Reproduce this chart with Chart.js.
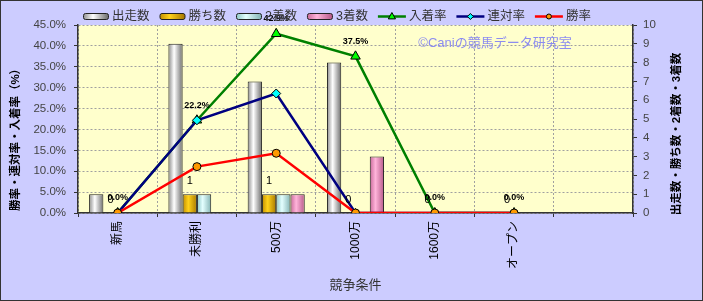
<!DOCTYPE html>
<html>
<head>
<meta charset="utf-8">
<script src="https://cdn.jsdelivr.net/npm/chart.js@4/dist/chart.umd.min.js"></script>
<style>
html, body { margin: 0; padding: 0; background: #fff; }
#wrap { position: relative; width: 701px; height: 299px; border: 1px solid #333; background: #ccccff; }
</style>
</head>
<body>
<div id="wrap"><canvas id="chart"></canvas></div>
<script>
const categories = ['新馬', '未勝利', '500万', '1000万', '1600万', 'オープン', ''];
const runs = [1, 9, 7, 8, 0, 0, null];
const wins = [0, 1, 1, 0, 0, 0, null];
const seconds = [0, 1, 1, 0, 0, 0, null];
const thirds = [0, 0, 1, 3, 0, 0, null];
const placeRate = [0, 22.2, 42.9, 37.5, 0, 0, null];
const quinellaRate = [0, 22.2, 28.6, 0, 0, 0, null];
const winRate = [0, 11.1, 14.3, 0, 0, 0, null];

const FONT = '"Liberation Sans", "Noto Sans CJK JP", sans-serif';

function barGradient(ctx, x0, x1, s) {
    const g = ctx.createLinearGradient(x0, 0, x1, 0);
    g.addColorStop(0, s[0]);
    g.addColorStop(0.4, s[1]);
    g.addColorStop(1, s[2]);
    return g;
}

function barSet(label, data, shade) {
    return {
        type: 'bar', label, data, shade,
        yAxisID: 'y2', order: 3,
        backgroundColor: () => shade[1],
        borderColor: '#222', borderWidth: 1,
        barPercentage: 1, categoryPercentage: 0.72,
    };
}

function lineSet(label, data, color, style, radius, fill, order) {
    return {
        type: 'line', label, data, order,
        yAxisID: 'y',
        borderColor: color, borderWidth: 2.5,
        pointStyle: style, pointRadius: radius,
        pointBackgroundColor: fill, pointBorderColor: '#000', pointBorderWidth: 1,
        tension: 0,
    };
}

function drawMarker(ctx, style, r, x, y) {
    ctx.beginPath();
    if (style === 'triangle') {
        ctx.moveTo(x, y - r);
        ctx.lineTo(x + r * 0.9, y + r * 0.6);
        ctx.lineTo(x - r * 0.9, y + r * 0.6);
        ctx.closePath();
    } else if (style === 'rectRot') {
        ctx.moveTo(x, y - r); ctx.lineTo(x + r, y); ctx.lineTo(x, y + r); ctx.lineTo(x - r, y);
        ctx.closePath();
    } else {
        ctx.arc(x, y, r, 0, Math.PI * 2);
    }
    ctx.fill();
    ctx.stroke();
}

// plot area background
const plotBg = {
    id: 'plotBg',
    beforeDraw(chart) {
        const {ctx, chartArea: a} = chart;
        ctx.save();
        ctx.fillStyle = '#ffffcc';
        ctx.fillRect(a.left, a.top, a.right - a.left, a.bottom - a.top);
        ctx.restore();
    }
};

// cylinder-like shading on bars + watermark
const barShading = {
    id: 'barShading',
    beforeDatasetsDraw(chart) {
        const ctx = chart.ctx;
        chart.data.datasets.forEach((ds, i) => {
            if (ds.type !== 'bar') return;
            chart.getDatasetMeta(i).data.forEach(el => {
                const h = el.width / 2;
                el.options.backgroundColor = barGradient(ctx, el.x - h, el.x + h, ds.shade);
            });
        });
        ctx.save();
        ctx.font = '13px ' + FONT;
        ctx.fillStyle = '#8c8cf0';
        ctx.textAlign = 'center';
        ctx.textBaseline = 'middle';
        ctx.fillText('©Caniの競馬データ研究室', 494, 42);
        ctx.restore();
    }
};

const valueLabels = {
    id: 'valueLabels',
    afterDatasetsDraw(chart) {
        const ctx = chart.ctx;
        ctx.save();
        ctx.textAlign = 'center';
        ctx.textBaseline = 'middle';
        ctx.fillStyle = '#000';
        ctx.font = '11px ' + FONT;
        chart.getDatasetMeta(1).data.forEach((el, i) => {
            if (wins[i] == null) return;
            ctx.fillText(String(wins[i]), el.x, el.y - 13);
        });
        ctx.font = 'bold 9px ' + FONT;
        chart.getDatasetMeta(4).data.forEach((el, i) => {
            if (placeRate[i] == null) return;
            ctx.fillText(placeRate[i].toFixed(1) + '%', el.x, el.y - 15);
        });
        ctx.restore();
    }
};

const legendAndTitles = {
    id: 'legendAndTitles',
    afterDraw(chart) {
        const ctx = chart.ctx;
        ctx.save();
        ctx.font = '12.5px ' + FONT;
        ctx.textBaseline = 'middle';
        let x = 82;
        const y = 15.5;
        chart.data.datasets.forEach(ds => {
            if (ds.type === 'bar') {
                ctx.fillStyle = barGradient(ctx, x, x + 25, ds.shade);
                ctx.strokeStyle = '#222';
                ctx.lineWidth = 1;
                ctx.beginPath();
                ctx.roundRect(x + 0.5, y - 3, 25, 6, 2);
                ctx.fill();
                ctx.stroke();
                x += 26;
            } else {
                ctx.strokeStyle = ds.borderColor;
                ctx.lineWidth = 2.5;
                ctx.beginPath();
                ctx.moveTo(x, y);
                ctx.lineTo(x + 28, y);
                ctx.stroke();
                ctx.fillStyle = ds.pointBackgroundColor;
                ctx.strokeStyle = '#000';
                ctx.lineWidth = 1;
                drawMarker(ctx, ds.pointStyle, ds.pointRadius - 1.5, x + 14, y);
                x += 28;
            }
            x += 3;
            ctx.fillStyle = '#333';
            ctx.fillText(ds.label, x, y + 0.5);
            x += ctx.measureText(ds.label).width + 10;
        });

        ctx.font = 'bold 11.5px ' + FONT;
        ctx.fillStyle = '#000';
        ctx.textAlign = 'center';
        ctx.translate(15, 136);
        ctx.rotate(-Math.PI / 2);
        ctx.fillText('勝率・連対率・入着率（%）', 0, 0);
        ctx.restore();

        ctx.save();
        ctx.font = 'bold 11.5px ' + FONT;
        ctx.fillStyle = '#000';
        ctx.textAlign = 'center';
        ctx.textBaseline = 'middle';
        ctx.translate(676, 133);
        ctx.rotate(-Math.PI / 2);
        ctx.fillText('出走数・勝ち数・2着数・3着数', 0, 0);
        ctx.restore();
    }
};

new Chart(document.getElementById('chart'), {
    data: {
        labels: categories,
        datasets: [
            barSet('出走数', runs, ['#8a8a8a', '#ffffff', '#6e6e6e']),
            barSet('勝ち数', wins, ['#c08c00', '#ffd21a', '#a87800']),
            barSet('2着数', seconds, ['#8cc4c4', '#e4ffff', '#84b4b4']),
            barSet('3着数', thirds, ['#c8689a', '#ffb4da', '#b85a8a']),
            lineSet('入着率', placeRate, '#008000', 'triangle', 5.5, '#00ff00', 2),
            lineSet('連対率', quinellaRate, '#000080', 'rectRot', 4.5, '#00ffff', 1),
            lineSet('勝率', winRate, '#ff0000', 'circle', 4, '#ff9900', 0),
        ],
    },
    options: {
        responsive: true,
        maintainAspectRatio: false,
        animation: false,
        layout: { padding: { top: 24, left: 0, right: 0, bottom: 0 } },
        plugins: {
            legend: { display: false },
            tooltip: { enabled: false },
        },
        scales: {
            x: {
                offset: true,
                grid: { offset: true, color: '#a0a0a0', lineWidth: 1, tickLength: 4, tickColor: '#333' },
                border: { color: '#333', width: 1.5, dash: [2, 2] },
                ticks: {
                    minRotation: 90, maxRotation: 90, autoSkip: false, padding: 4,
                    color: '#000', font: { family: FONT, size: 12 },
                },
                title: {
                    display: true, text: '競争条件', color: '#333',
                    font: { family: FONT, size: 13 }, padding: { top: 0, bottom: 7 },
                },
                afterFit: s => { s.height = 87; },
            },
            y: {
                position: 'left',
                min: 0, max: 45,
                ticks: {
                    stepSize: 5, padding: 8, color: '#444',
                    font: { family: FONT, size: 11.5 },
                    callback: v => v.toFixed(1) + '%',
                },
                grid: { color: '#a0a0a0', lineWidth: 1, tickLength: 4, tickColor: '#333' },
                border: { color: '#333', width: 1.5, dash: [2, 2] },
                afterFit: s => { s.width = 77; },
            },
            y2: {
                position: 'right',
                min: 0, max: 10,
                ticks: { stepSize: 1, padding: 6, color: '#444', font: { family: FONT, size: 11.5 } },
                grid: { drawOnChartArea: false, tickLength: 4, tickColor: '#333' },
                border: { color: '#333', width: 1.5 },
                afterFit: s => { s.width = 69; },
            },
        },
    },
    plugins: [plotBg, barShading, valueLabels, legendAndTitles],
});
</script>
</body>
</html>
